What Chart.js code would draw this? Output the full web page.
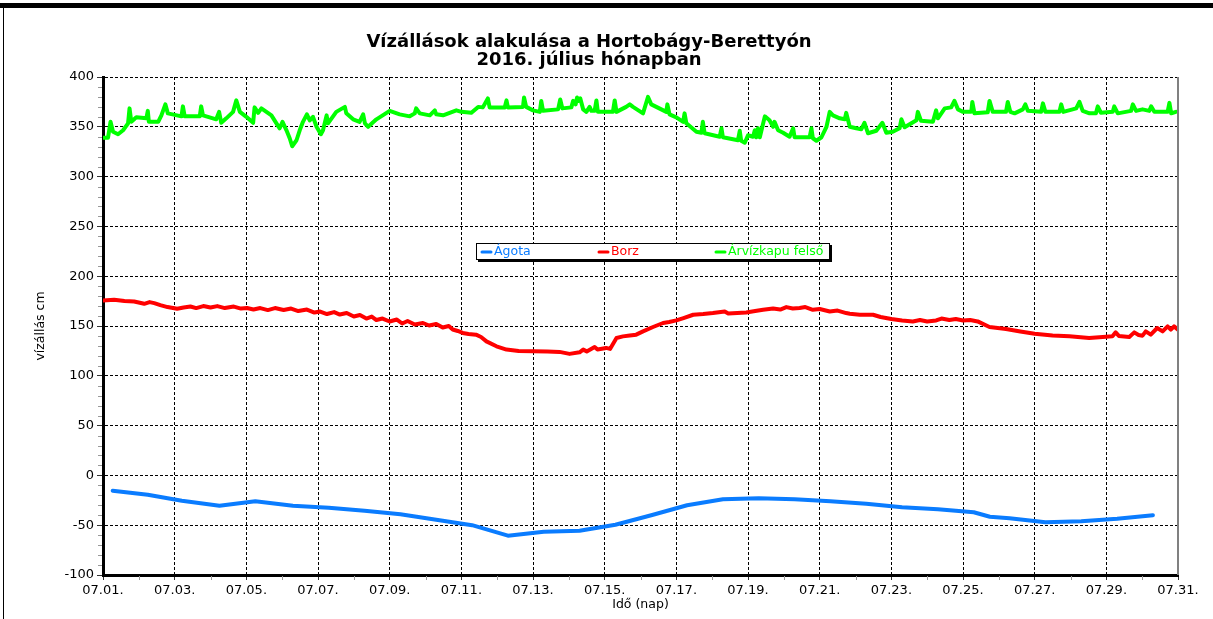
<!DOCTYPE html>
<html>
<head>
<meta charset="utf-8">
<script src="https://cdn.jsdelivr.net/npm/chart.js@4.4.1/dist/chart.umd.min.js"></script>
<style>
  html, body { margin: 0; padding: 0; background: #fff; }
  #wrap { width: 1213px; height: 619px; position: relative; }
</style>
</head>
<body>
<div id="wrap"><canvas id="levelChart"></canvas></div>
<script>
// x tick labels (every 2nd day of July 2016)
const tickLabels = ['07.01.', '07.03.', '07.05.', '07.07.', '07.09.', '07.11.', '07.13.', '07.15.',
    '07.17.', '07.19.', '07.21.', '07.23.', '07.25.', '07.27.', '07.29.', '07.31.'];

const seriesNames = ['Ágota', 'Borz', 'Árvízkapu felső'];

// Ágota - daily values (day of month, cm)
const agotaDays = [1.27, 2.25, 3.2, 4.25, 5.25, 6.3, 7.3, 8.3, 9.3, 10.3, 11.3, 12.3, 13.3, 14.3, 15.3,
    16.3, 17.3, 18.3, 19.3, 20.3, 21.3, 22.3, 23.3, 24.3, 25.3, 25.75, 26.3, 27.3, 28.3, 29.3, 30.3];
const agotaLevels = [-15.5, -19.5, -25.5, -30.5, -26, -30.5, -32.5, -35.5, -39, -44.5, -50, -60.5, -56.5, -55.5, -49.5,
    -40, -30, -24, -23, -24, -26, -28.5, -32, -34, -37, -41.5, -43, -47, -46, -43.5, -40];

// Borz
const borzDays = [1.00, 1.31, 1.6, 1.87, 2.15, 2.3, 2.43, 2.6, 2.80, 3.07, 3.25, 3.44, 3.6, 3.8, 4.0, 4.19, 4.4, 4.65,
    4.85, 5.02, 5.2, 5.39, 5.6, 5.8, 6.04, 6.25, 6.45, 6.69, 6.9, 7.06, 7.25, 7.45, 7.61, 7.8, 8.0, 8.17, 8.35, 8.5,
    8.63, 8.8, 9.0, 9.2, 9.35, 9.5, 9.7, 9.93, 10.1, 10.3, 10.48, 10.65, 10.76, 10.9, 11.04, 11.2, 11.41, 11.55, 11.7,
    11.98, 12.26, 12.6, 13.0, 13.4, 13.74, 14.02, 14.30, 14.40, 14.50, 14.72, 14.80, 15.04, 15.15, 15.33, 15.51, 15.7,
    15.88, 16.07, 16.35, 16.63, 16.8, 17.0, 17.2, 17.47, 17.75, 18.02, 18.35, 18.45, 18.7, 18.95, 19.2, 19.42, 19.7,
    19.9, 20.07, 20.25, 20.44, 20.6, 20.81, 21.0, 21.28, 21.5, 21.74, 21.84, 22.12, 22.49, 22.7, 23.0, 23.3, 23.6,
    23.8, 24.0, 24.25, 24.4, 24.62, 24.8, 25.0, 25.2, 25.41, 25.74, 26.2, 26.6, 27.0, 27.5, 27.97, 28.52, 28.9, 29.17,
    29.26, 29.35, 29.64, 29.78, 29.9, 30.01, 30.10, 30.24, 30.42, 30.57, 30.71, 30.80, 30.89, 31.0];
const borzLevels = [175.5, 176.3, 175, 174.6, 172.3, 174, 173, 171, 169, 167.3, 168.5, 169.6, 168, 170, 168.5, 170, 168, 169.5,
    167.5, 168, 166.5, 168, 166, 168, 166, 167.5, 165, 166.5, 163.5, 164.5, 162, 164, 161.5, 163, 159.5, 161, 157.5, 159.5,
    156, 157.5, 154.5, 156.5, 152.5, 155, 151.5, 153, 150.5, 152, 148.5, 150, 146.5, 145, 143, 142, 141.3, 139, 134.6,
    129.6, 126.3, 125, 124.6, 124.3, 124, 122, 123.6, 126.3, 124.5, 129, 126.5, 128, 127, 138, 139.6, 140.5,
    141.3, 144.6, 149, 153, 154, 155.6, 158, 161.3, 162, 163, 164.6, 162.5, 163, 163.6, 165, 166.3, 167.5,
    166.5, 169, 167.5, 168, 169, 166.3, 167, 164.6, 165.5, 163, 162.3, 161.3, 161.3, 159, 157, 155.5, 154.6,
    156, 154.5, 155.6, 157.5, 156, 157, 155.6, 156, 154.6, 149, 147, 144.5, 142.3, 140.5, 139.6, 138, 139, 139.6,
    143.6, 140, 139, 143.6, 141, 140.3, 144.6, 141.3, 148, 144.6, 149.6, 146.3, 149.6, 146.3];

// Árvízkapu felső
const felsoDays = [1.00, 1.14, 1.21, 1.28, 1.42, 1.56, 1.70, 1.74, 1.79, 1.93, 2.21, 2.25, 2.28, 2.54, 2.63, 2.74, 2.81,
    3.19, 3.23, 3.28, 3.70, 3.74, 3.79, 4.16, 4.24, 4.30, 4.44, 4.63, 4.72, 4.82, 5.00, 5.19, 5.23, 5.33, 5.42, 5.70,
    5.84, 5.93, 6.01, 6.12, 6.21, 6.28, 6.40, 6.49, 6.58, 6.69, 6.77, 6.86, 6.96, 7.08, 7.14, 7.24, 7.28, 7.51, 7.75,
    7.79, 7.98, 8.16, 8.26, 8.31, 8.40, 8.63,
    9.00, 9.28, 9.56, 9.70, 9.74, 9.84, 10.12, 10.26, 10.30, 10.49, 10.86, 11.00, 11.28, 11.47, 11.60, 11.74, 11.79,
    12.21, 12.26, 12.30, 12.72, 12.75, 12.81, 13.00, 13.19, 13.23, 13.28, 13.70, 13.76, 13.82, 14.07, 14.12, 14.19,
    14.23, 14.27, 14.32, 14.40, 14.49, 14.58, 14.63, 14.72, 14.77, 14.81, 15.23, 15.28, 15.33, 15.60, 15.70, 15.79,
    16.07, 16.21, 16.30, 16.44, 16.72, 16.75, 16.81, 17.00, 17.19, 17.23, 17.28, 17.56, 17.70, 17.74, 17.79, 18.21,
    18.26, 18.30, 18.72, 18.77, 18.81, 18.91, 19.00, 19.14, 19.19, 19.23, 19.28, 19.33, 19.47, 19.60, 19.70, 19.74,
    19.84, 19.98, 20.16,
    20.26, 20.30, 20.72, 20.77, 20.81, 20.91, 21.05, 21.19, 21.28, 21.37, 21.56, 21.70, 21.74, 21.84, 22.02, 22.16,
    22.25, 22.35, 22.58, 22.75, 22.86, 23.04, 23.23, 23.28, 23.37, 23.70, 23.74, 23.83, 24.16, 24.25, 24.30, 24.49,
    24.67, 24.76, 24.86, 25.00, 25.23, 25.26, 25.32, 25.69, 25.74, 25.83, 26.20, 26.25, 26.32, 26.44, 26.67, 26.74,
    26.81, 27.18, 27.23, 27.30, 27.69, 27.74, 27.80, 28.16, 28.25, 28.34, 28.53, 28.71, 28.76, 28.85, 29.18, 29.22,
    29.32, 29.69, 29.74, 29.83, 30.01, 30.20, 30.25, 30.34, 30.71, 30.76, 30.81, 30.94];
const felsoLevels = [339, 339, 355, 345, 342.5, 346.5, 353.5, 368.5, 355, 359.5, 358.5, 366, 355, 355, 361.5, 372.5, 363.5,
    360.5, 370.5, 360.5, 360.5, 370.5, 361.5, 357.5, 365, 354, 358.5, 365, 376.5, 365, 360, 354, 369.5, 364, 368.5, 361.5,
    353.5, 348.5, 355, 346.5, 338.5, 330.5, 336.5, 346.5, 355, 362.5, 356.5, 360, 350, 342.5, 346.5, 361.5, 353.5, 365, 370,
    363.5, 357.5, 355, 362.5, 353.5, 350, 357.5,
    366, 362.5, 360.5, 363.5, 368.5, 363.5, 361.5, 366.5, 362.5, 361.5, 366.5, 365, 364, 370, 369.5, 378.5, 369.5,
    369.5, 376.5, 369.5, 370, 379.5, 370, 366.5, 365, 376, 366, 367.5, 377.5, 368.5, 369.5, 376, 372.5,
    379.5, 376, 378.5, 367.5, 365, 370, 366, 366, 376.5, 365, 365, 376.5, 365, 370, 372.5, 370,
    363.5, 380, 372.5, 370, 365, 372.5, 362.5, 359.5, 355, 363.5, 353.5, 345, 344, 355, 343.5, 340,
    348.5, 339.5, 336.5, 346, 336, 334, 341.5, 340, 346.5, 339.5, 348.5, 339.5, 360.5, 356.5, 350, 355,
    346.5, 344, 340,
    348.5, 339.5, 339.5, 348.5, 338.5, 336, 339.5, 350, 365, 361.5, 358.5, 357.5, 364, 350, 348.5, 347.5,
    354, 343.5, 346, 354, 344, 345, 348.5, 357.5, 349.5, 356.5, 365, 356, 355, 366.5, 358.5, 368.5,
    369.5, 376, 367.5, 365, 365, 375, 363.5, 364.5, 376, 365, 365, 375, 365, 363.5, 367.5, 372.5,
    366, 365, 373.5, 365, 365, 372.5, 365, 368.5, 375, 366, 363.5, 363.5, 370.5, 364, 365, 370.5,
    363.5, 366, 372.5, 366, 367.5, 366, 370.5, 365, 365, 374, 363.5, 365];

const seriesColors = ['#0a7cff', '#ff0000', '#00ff00'];

function toPoints(days, levels) {
    return days.map((d, i) => ({ x: d, y: levels[i] }));
}

Chart.defaults.font.family = '"DejaVu Sans", Arial, sans-serif';
Chart.defaults.color = '#000';

// frame, minor ticks, right border and the boxed legend
const decorations = {
    id: 'decorations',
    beforeDraw(chart) {
        const ctx = chart.ctx;
        ctx.save();
        ctx.fillStyle = '#fff';
        ctx.fillRect(0, 0, chart.width, chart.height);
        ctx.fillStyle = '#000';
        ctx.fillRect(0, 3, chart.width, 5);
        ctx.fillRect(3, 3, 1, chart.height);
        ctx.restore();
    },
    afterDraw(chart) {
        const { ctx, chartArea: a, scales: { x, y } } = chart;
        ctx.save();
        ctx.strokeStyle = '#999';
        ctx.lineWidth = 1;
        ctx.beginPath();
        for (let v = y.min + 10; v < y.max; v += 10) {
            if (v % 50 === 0) continue;
            const py = Math.round(y.getPixelForValue(v)) + 0.5;
            ctx.moveTo(a.left - 5, py);
            ctx.lineTo(a.left - 1, py);
        }
        for (let d = x.min + 1; d < x.max; d += 2) {
            const px = Math.round(x.getPixelForValue(d)) + 0.5;
            ctx.moveTo(px, a.bottom + 1);
            ctx.lineTo(px, a.bottom + 5);
        }
        ctx.stroke();

        ctx.strokeStyle = '#808080';
        ctx.lineWidth = 2;
        ctx.beginPath();
        ctx.moveTo(a.right, a.top);
        ctx.lineTo(a.right, a.bottom);
        ctx.stroke();

        // legend box
        const bx = a.left + 373, by = a.top + 166, bw = 354, bh = 17;
        ctx.fillStyle = '#000';
        ctx.fillRect(bx + 2, by + 2, bw, bh);
        ctx.fillStyle = '#fff';
        ctx.fillRect(bx, by, bw, bh);
        ctx.strokeStyle = '#000';
        ctx.lineWidth = 1;
        ctx.strokeRect(bx + 0.5, by + 0.5, bw - 1, bh - 1);
        const offsets = [5, 122, 239];
        ctx.font = '12.5px "DejaVu Sans", Arial, sans-serif';
        ctx.textBaseline = 'middle';
        ctx.lineCap = 'round';
        seriesNames.forEach((name, i) => {
            const lx = bx + offsets[i];
            const ly = by + bh / 2 + 0.5;
            ctx.strokeStyle = seriesColors[i];
            ctx.lineWidth = 3;
            ctx.beginPath();
            ctx.moveTo(lx + 1, ly);
            ctx.lineTo(lx + 10, ly);
            ctx.stroke();
            ctx.fillStyle = seriesColors[i];
            ctx.fillText(name, lx + 13, ly);
        });
        ctx.restore();
    }
};

const ctx = document.getElementById('levelChart').getContext('2d');
const levelChart = new Chart(ctx, {
    type: 'line',
    data: {
        datasets: [
            { label: seriesNames[2], data: toPoints(felsoDays, felsoLevels), borderColor: seriesColors[2] },
            { label: seriesNames[1], data: toPoints(borzDays, borzLevels), borderColor: seriesColors[1] },
            { label: seriesNames[0], data: toPoints(agotaDays, agotaLevels), borderColor: seriesColors[0] }
        ]
    },
    options: {
        responsive: true,
        maintainAspectRatio: false,
        animation: false,
        datasets: {
            line: { borderWidth: 4, pointRadius: 0, tension: 0, borderJoinStyle: 'round', borderCapStyle: 'round' }
        },
        layout: { padding: { left: 0, right: 35, top: 0, bottom: 0 } },
        plugins: {
            legend: { display: false },
            tooltip: { enabled: false },
            title: {
                display: true,
                text: ['Vízállások alakulása a Hortobágy-Berettyón', '2016. július hónapban'],
                font: { size: 18, weight: 'bold', lineHeight: 1.0 },
                color: '#000',
                padding: { top: 33, bottom: 8 }
            }
        },
        scales: {
            x: {
                type: 'linear',
                min: 1,
                max: 31,
                afterFit(scale) { scale.height = 44; },
                ticks: {
                    stepSize: 2,
                    autoSkip: false,
                    maxRotation: 0,
                    padding: 3,
                    font: { size: 13 },
                    callback: (v) => tickLabels[Math.round((v - 1) / 2)]
                },
                grid: { color: '#000', lineWidth: 1, tickLength: 5, tickColor: '#333', tickBorderDash: [] },
                border: { display: true, color: '#000', width: 3, dash: [3, 2] },
                title: { display: true, text: 'Idő (nap)', font: { size: 12.5 }, padding: { top: 0, bottom: 7 } }
            },
            y: {
                min: -100,
                max: 400,
                afterFit(scale) { scale.width = 103; },
                ticks: { stepSize: 50, padding: 3, font: { size: 13 } },
                grid: { color: '#000', lineWidth: 1, tickLength: 6, tickColor: '#333', tickBorderDash: [] },
                border: { display: true, color: '#000', width: 3, dash: [3, 2] },
                title: { display: true, text: 'vízállás cm', font: { size: 12.5 }, padding: { top: 33, bottom: 0 } }
            }
        }
    },
    plugins: [decorations]
});
</script>
</body>
</html>
